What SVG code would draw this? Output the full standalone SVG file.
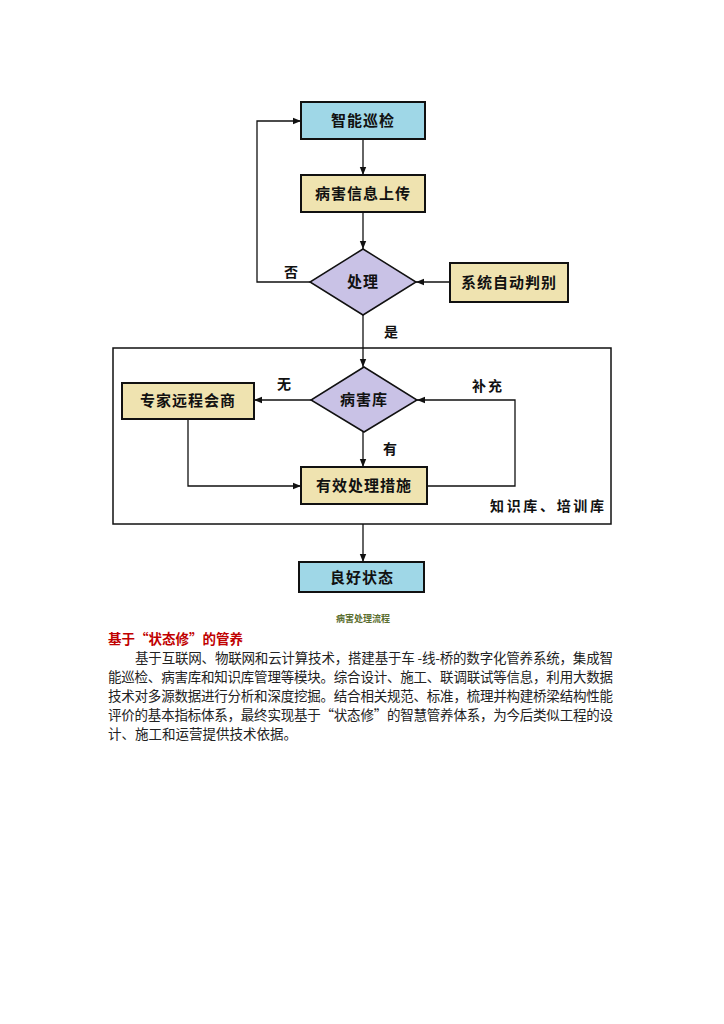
<svg xmlns="http://www.w3.org/2000/svg" width="724" height="1024" viewBox="0 0 724 1024">
<defs>
<marker id="arr" viewBox="0 0 10 10" refX="10" refY="5" markerWidth="8" markerHeight="8" markerUnits="userSpaceOnUse" orient="auto">
<path d="M0,1 L10,5 L0,9 z" fill="#111"/>
</marker>
<style>
.blue{fill:#9fd7e7;stroke:#111;stroke-width:2}
.yel{fill:#efe3b0;stroke:#111;stroke-width:2}
.pur{fill:#c9c2e6;stroke:#111;stroke-width:1.5}
.t{font-family:"Noto Sans CJK SC","Noto Sans",sans-serif;font-weight:bold;font-size:15px;fill:#111;text-anchor:middle;letter-spacing:1px}
.lb{font-family:"Noto Sans CJK SC","Noto Sans",sans-serif;font-weight:bold;font-size:14px;fill:#111;text-anchor:middle}
.ln{fill:none;stroke:#111;stroke-width:1.3}
.body{font-family:"Noto Sans CJK SC","Noto Sans",sans-serif;font-size:13.5px;fill:#222}
</style>
</defs>
<rect width="724" height="1024" fill="#fff"/>
<g id="outer"><rect x="113" y="348" width="498" height="176" fill="none" stroke="#111" stroke-width="1.5"/>
<text class="lb" x="490" y="511" text-anchor="start" textLength="114" style="text-anchor:start">知识库、培训库</text></g>
<g id="connectors">
<path class="ln" d="M363,139 V175" marker-end="url(#arr)"/>
<path class="ln" d="M363,212 V249" marker-end="url(#arr)"/>
<path class="ln" d="M450,282 H416" marker-end="url(#arr)"/>
<path class="ln" d="M310,282 H257 V121 H301" marker-end="url(#arr)"/>
<path class="ln" d="M363,315 V367" marker-end="url(#arr)"/>
<path class="ln" d="M311,400 H254" marker-end="url(#arr)"/>
<path class="ln" d="M363,432 V467" marker-end="url(#arr)"/>
<path class="ln" d="M188,419 V486 H301" marker-end="url(#arr)"/>
<path class="ln" d="M427,486 H515 V400 H417" marker-end="url(#arr)"/>
<path class="ln" d="M363,524 V562" marker-end="url(#arr)"/>
</g>
<g id="labels">
<text class="lb" x="291" y="277">否</text>
<text class="lb" x="391" y="337">是</text>
<text class="lb" x="284" y="389">无</text>
<text class="lb" x="488" y="391" letter-spacing="2">补充</text>
<text class="lb" x="390" y="454">有</text>
</g>
<g id="n1"><rect class="blue" x="301" y="102" width="124" height="37"/><text class="t" x="363" y="126">智能巡检</text></g>
<g id="n2"><rect class="yel" x="301" y="175" width="124" height="37"/><text class="t" x="363" y="199">病害信息上传</text></g>
<g id="d1"><polygon class="pur" points="363,249 416,282 363,315 310,282"/><text class="t" x="363" y="287">处理</text></g>
<g id="n3"><rect class="yel" x="450" y="263" width="118" height="39"/><text class="t" x="509" y="288">系统自动判别</text></g>
<g id="d2"><polygon class="pur" points="364,367 417,400 364,432 311,400"/><text class="t" x="364" y="405">病害库</text></g>
<g id="n4"><rect class="yel" x="122" y="383" width="132" height="36"/><text class="t" x="188" y="406">专家远程会商</text></g>
<g id="n5"><rect class="yel" x="301" y="467" width="126" height="37"/><text class="t" x="364" y="491">有效处理措施</text></g>
<g id="n6"><rect class="blue" x="299" y="562" width="125" height="30"/><text class="t" x="362" y="583">良好状态</text></g>
<text x="363" y="622" text-anchor="middle" font-family="Noto Sans CJK SC, sans-serif" font-size="9" font-weight="bold" fill="#5b6e30">病害处理流程</text>
<text x="108" y="644" font-family="Noto Sans CJK SC, sans-serif" font-size="13.5" font-weight="bold" fill="#c00000">基于“状态修”的管养</text>
<text class="body" x="135" y="663" textLength="478">基于互联网、物联网和云计算技术，搭建基于车 -线-桥的数字化管养系统，集成智</text>
<text class="body" x="108" y="682" textLength="505">能巡检、病害库和知识库管理等模块。综合设计、施工、联调联试等信息，利用大数据</text>
<text class="body" x="108" y="701" textLength="505">技术对多源数据进行分析和深度挖掘。结合相关规范、标准，梳理并构建桥梁结构性能</text>
<text class="body" x="108" y="720" textLength="505">评价的基本指标体系，最终实现基于“状态修”的智慧管养体系，为今后类似工程的设</text>
<text class="body" x="108" y="739">计、施工和运营提供技术依据。</text>
</svg>
